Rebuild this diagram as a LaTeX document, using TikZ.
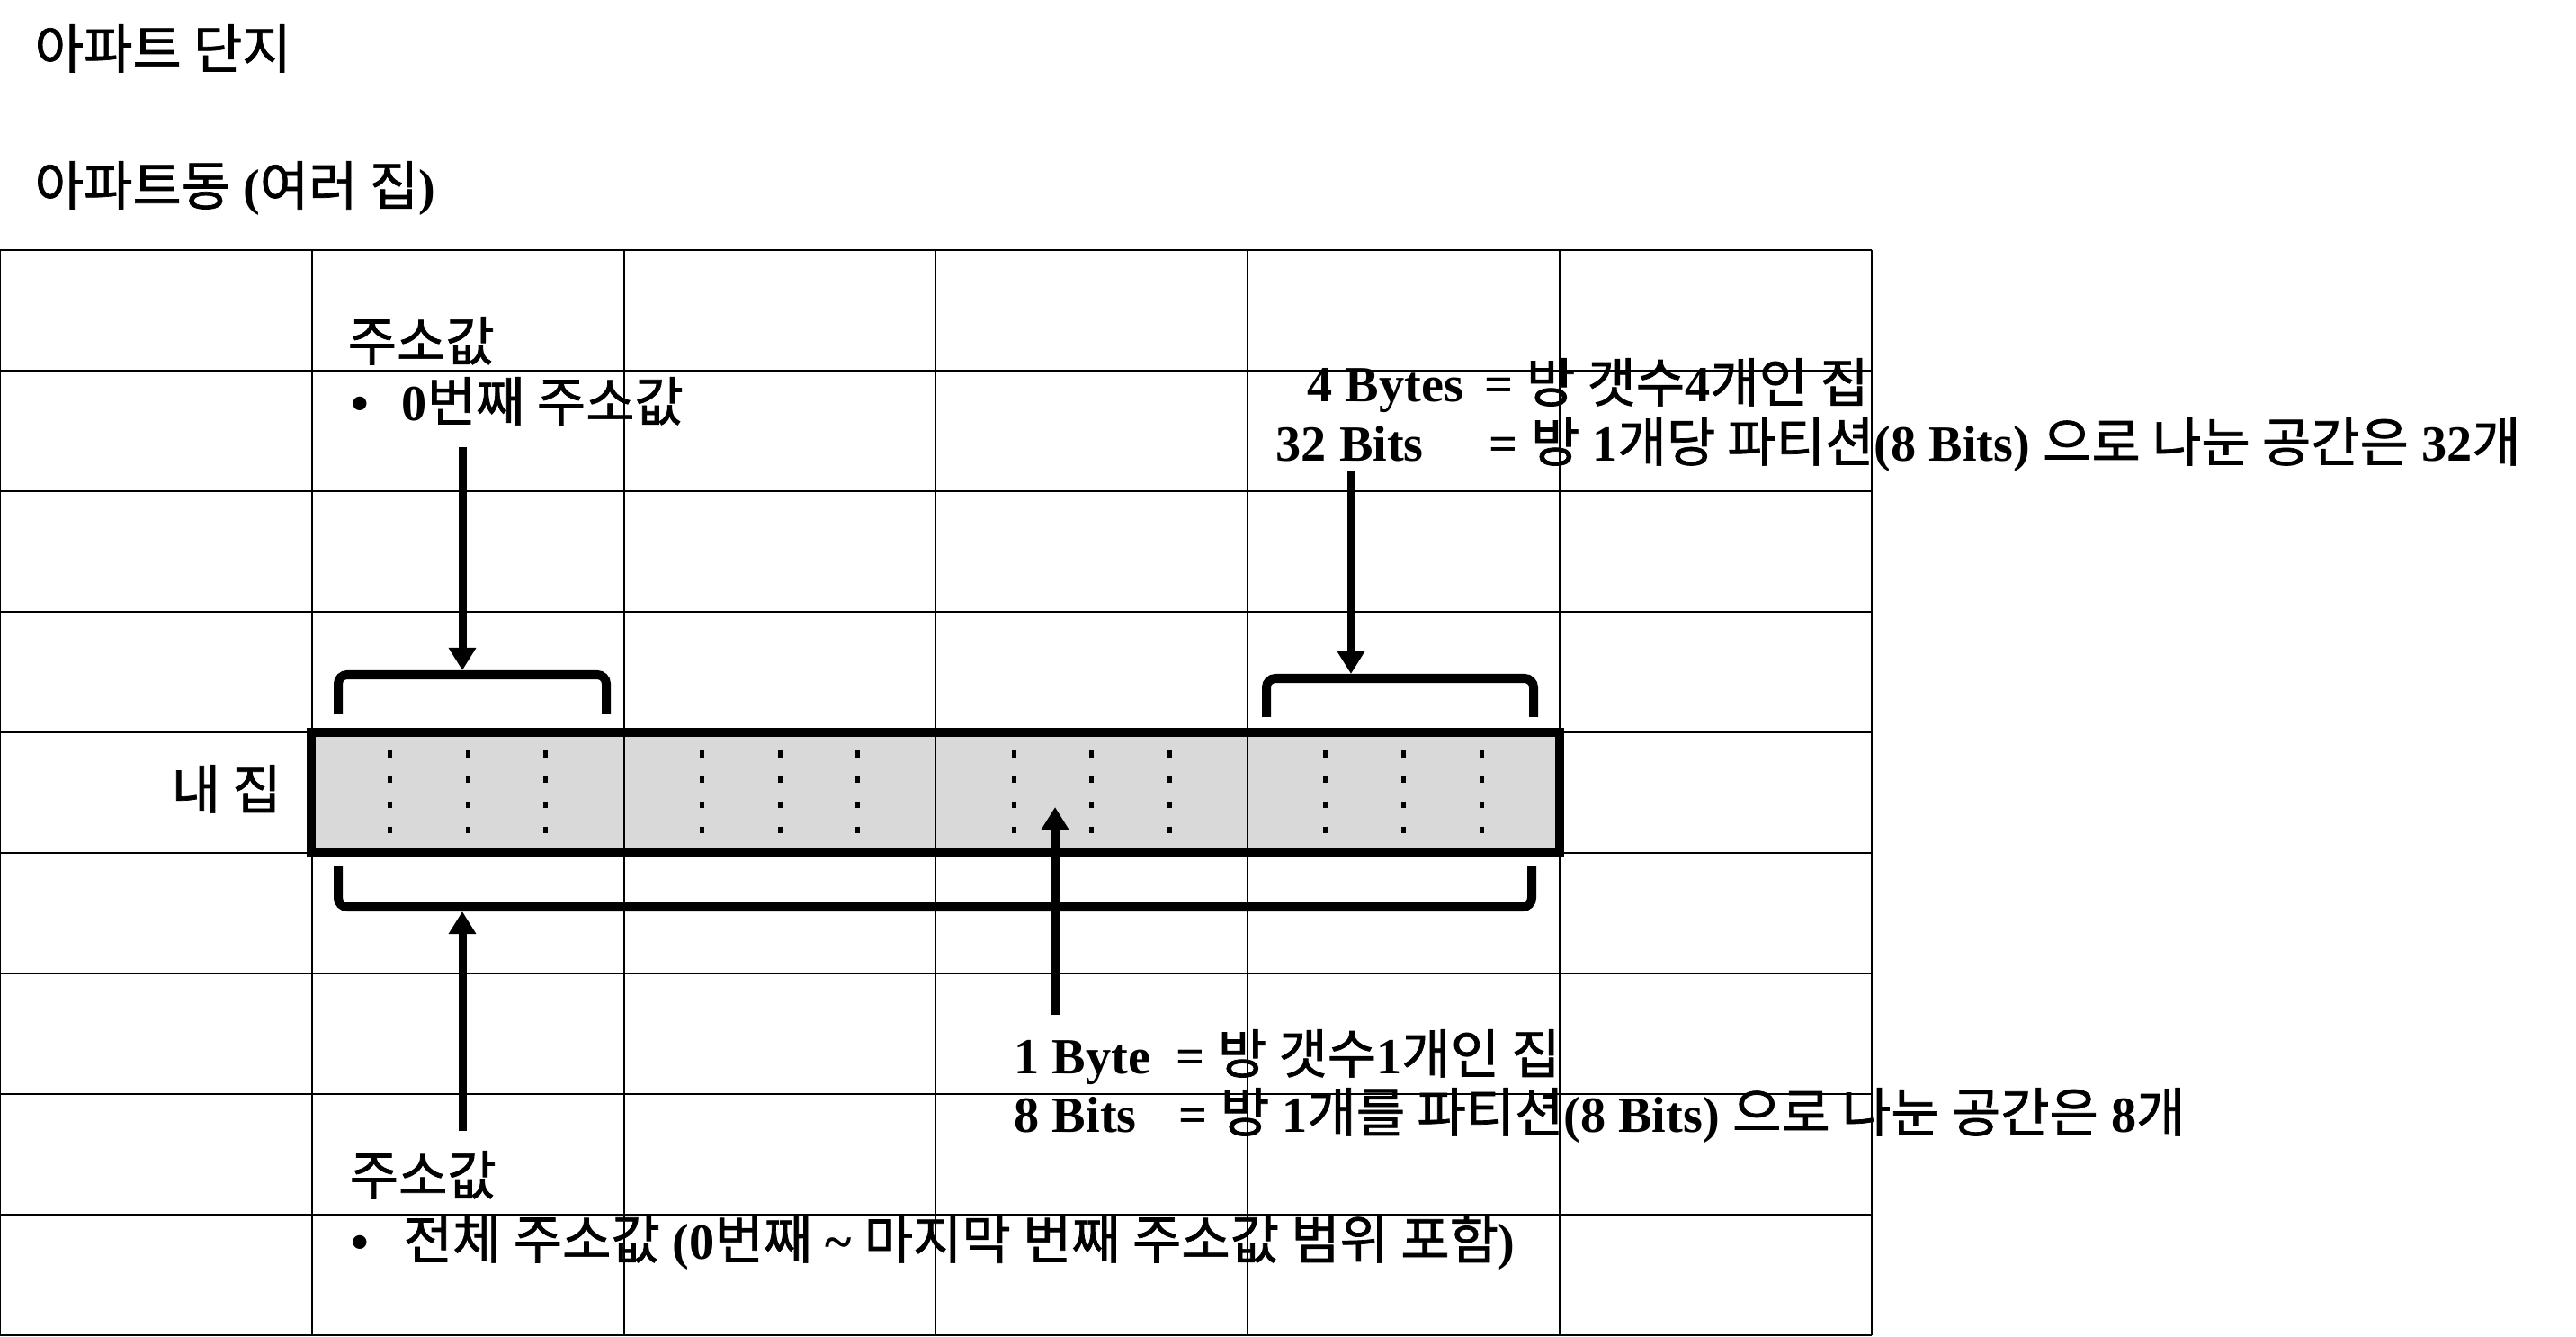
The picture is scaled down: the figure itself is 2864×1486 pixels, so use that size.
\documentclass[tikz,border=0pt]{standalone}
\usepackage{fontspec}
\setmainfont{Liberation Serif}
\newfontfamily\kr[Scale=1.05, FakeBold=1.2]{Noto Sans CJK KR}
\usepackage{tikz}
\usetikzlibrary{arrows.meta}
\usetikzlibrary{calc}
\definecolor{housegray}{HTML}{D9D9D9}
\tikzstyle{gridline} = [draw=black, line width=0.02cm]
\tikzstyle{house} = [draw=black, fill=housegray,
	line width=0.1cm,
	minimum width=13.872cm,
	minimum height=1.34cm,
	inner sep=0, outer sep=0]
\tikzstyle{roomdots} = [line width=0.05cm, dash pattern=on 0.07cm off 0.21cm]
\tikzstyle{bracket} = [line width=0.1cm, rounded corners=0.1cm]
\tikzstyle{arrow} = [-{Triangle[length=0.25cm, width=0.29cm]}, line width=0.09cm]
\tikzstyle{txt} = [anchor=base west, inner sep=0,
	font=\bfseries\fontsize{16}{19}\selectfont]
\newcommand{\ko}[1]{{\kr\mdseries #1}}
\newcommand{\drawbracket}[4]{\draw[bracket] (#1,#4) -- (#1,#3) -- (#2,#3) -- (#2,#4)}

\begin{document}
\begin{tikzpicture}[x=0.01cm, y=-0.01cm]
	\useasboundingbox (0,0) rectangle (2864,1486);
	\node (title) [txt] at (38,76) {\ko{아파트 단지}};
	\node (bldg) [txt] at (38,228) {\ko{아파트동} (\ko{여러 집})};
	
	% house row with the four rooms
	\node (home) [house] at (1040.4,881) {};
	\foreach \i in {0,...,6}
		\draw [gridline] (\i*346.8,278) -- (\i*346.8,1484);
	\foreach \j in {0,...,9}
		\draw [gridline] (0,278+\j*134) -- (2080.8,278+\j*134);
	\foreach \c in {0,...,3}
		\foreach \k in {1,2,3}
			\draw [roomdots] ({346.8+\c*346.8+\k*86.7},834.5) -- ++(0,91);
	\node (myhome) [txt] at (190,899) {\ko{내 집}};
	
	% labels above
	\node (addrtop) [txt] at (386,401) {\ko{주소값}};
	\node (addrtopitem) [txt] at ($ (addrtop.base west) + (4,67) $) {\makebox[0.56cm][l]{•}0\ko{번째 주소값}};
	\node (bytes4) [txt] at (1453,447) {\makebox[1.97cm][l]{4 Bytes}= \ko{방 갯수}4\ko{개인 집}};
	\node (bits32) [txt] at ($ (bytes4.base west) + (-35,66) $) {\makebox[2.37cm][l]{32 Bits}= \ko{방} 1\ko{개당 파티션}(8 Bits) \ko{으로 나눈 공간은} 32\ko{개}};
	
	\drawbracket{376}{674}{750}{794};
	\drawbracket{1408}{1705}{754}{797};
	\drawbracket{376}{1703}{1008}{962};
	
	\coordinate (tlsrc) at (514,497);
	\coordinate (tltip) at (514,745);
	\coordinate (trsrc) at (1502,524);
	\coordinate (trtip) at (1502,749);
	\coordinate (midsrc) at (1173,1128);
	\coordinate (midtip) at (1173,897);
	\coordinate (blsrc) at (514,1257);
	\coordinate (bltip) at (514,1013);
	\draw [arrow] (tlsrc) -- (tltip);
	\draw [arrow] (trsrc) -- (trtip);
	\draw [arrow] (midsrc) -- (midtip);
	\draw [arrow] (blsrc) -- (bltip);
	
	% labels below
	\node (byte1) [txt] at (1127,1193) {\makebox[1.80cm][l]{1 Byte}= \ko{방 갯수}1\ko{개인 집}};
	\node (bits8) [txt] at ($ (byte1.base west) + (0,65) $) {\makebox[1.83cm][l]{8 Bits}= \ko{방} 1\ko{개를 파티션}(8 Bits) \ko{으로 나눈 공간은} 8\ko{개}};
	\node (addrbot) [txt] at (388,1328) {\ko{주소값}};
	\node (addrbotitem) [txt] at ($ (addrbot.base west) + (2,71) $) {\makebox[0.58cm][l]{•}\ko{전체 주소값} (0\ko{번째} \textasciitilde{} \ko{마지막 번째 주소값 범위 포함})};
\end{tikzpicture}
\end{document}
